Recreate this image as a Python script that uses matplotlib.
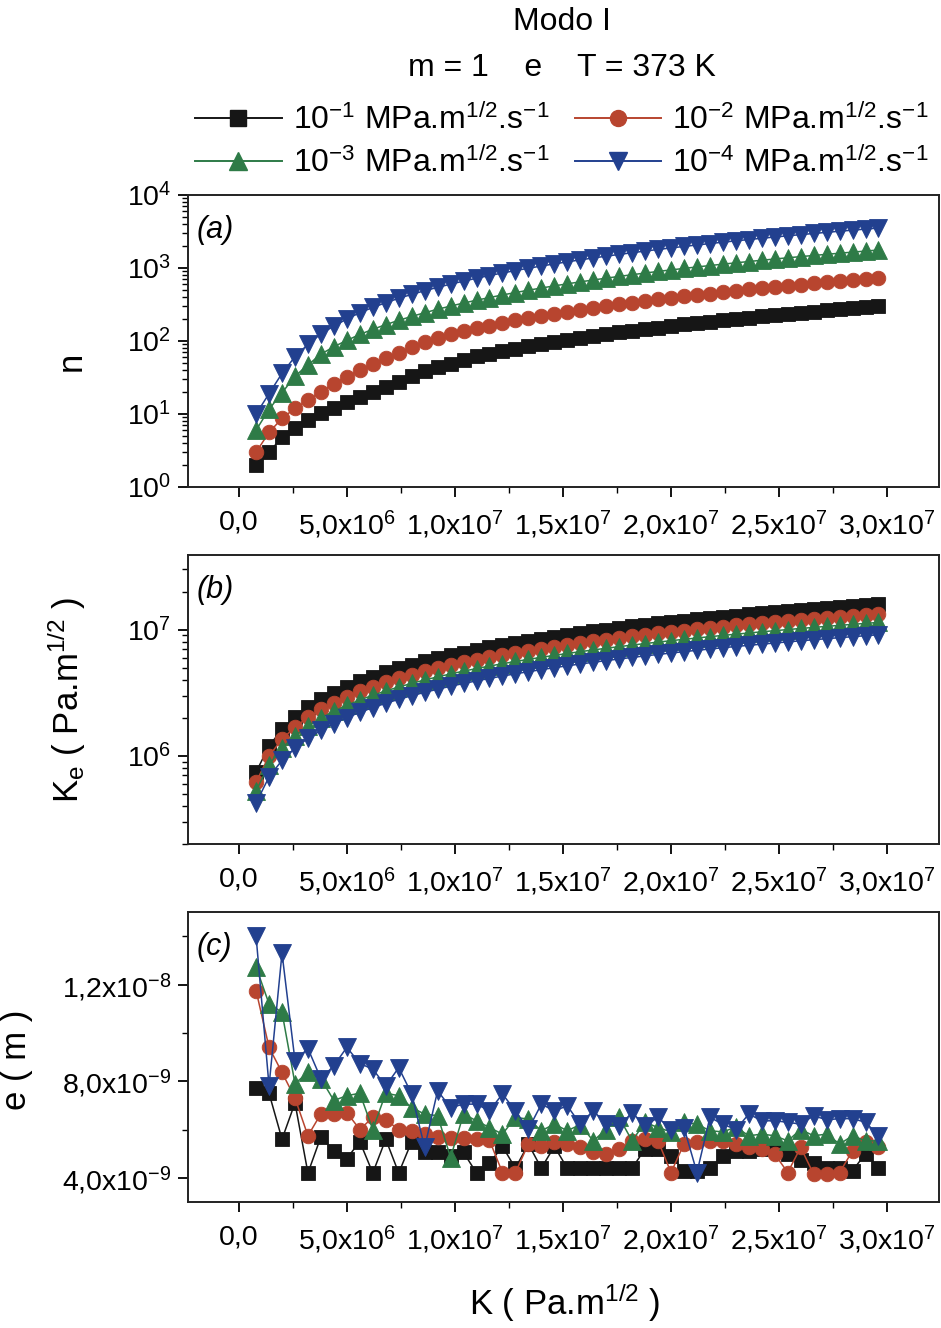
import matplotlib
matplotlib.use("Agg")
import matplotlib.pyplot as plt
from matplotlib.lines import Line2D
from matplotlib.ticker import FixedLocator, FixedFormatter, MultipleLocator, LogLocator, NullFormatter

plt.rcParams['font.family'] = ['Liberation Sans', 'DejaVu Sans']
plt.rcParams['mathtext.fontset'] = 'custom'
plt.rcParams['mathtext.rm'] = 'Liberation Sans'
plt.rcParams['mathtext.it'] = 'Liberation Sans:italic'
plt.rcParams['mathtext.bf'] = 'Liberation Sans:bold'

# Applied stress intensity K (MPa.m^1/2)
K_MPa = [0.8, 1.4, 2.0, 2.6, 3.2, 3.8, 4.4, 5.0, 5.6, 6.2, 6.8, 7.4, 8.0, 8.6, 9.2, 9.8,
         10.4, 11.0, 11.6, 12.2, 12.8, 13.4, 14.0, 14.6, 15.2, 15.8, 16.4, 17.0, 17.6,
         18.2, 18.8, 19.4, 20.0, 20.6, 21.2, 21.8, 22.4, 23.0, 23.6, 24.2, 24.8, 25.4,
         26.0, 26.6, 27.2, 27.8, 28.4, 29.0, 29.6]

rate_labels = [r'10$^{-1}$ MPa.m$^{1/2}$.s$^{-1}$', r'10$^{-2}$ MPa.m$^{1/2}$.s$^{-1}$',
               r'10$^{-3}$ MPa.m$^{1/2}$.s$^{-1}$', r'10$^{-4}$ MPa.m$^{1/2}$.s$^{-1}$']

# (a) n
n_r1 = [2, 3, 4.8, 6.4, 8.3, 10.3, 12, 14.6, 17, 20, 23.4, 27.5, 33, 38.5, 43.5, 49, 55, 61.7,
        67.2, 72.8, 78.6, 84.6, 90.7, 97, 103.5, 110.1, 116.9, 123.8, 130.8, 138, 145.4, 152.9,
        160.5, 168.3, 176.2, 184.2, 192.5, 200.7, 209.2, 217.7, 226.4, 235.3, 244.2, 253.2,
        262.5, 271.9, 281.3, 290.9, 300.6]
n_r2 = [3.0, 5.6, 8.7, 12, 15.5, 20, 26, 32.5, 40, 49, 58, 68, 82, 96, 110, 124.5, 137, 150,
        163, 177, 191, 205, 220, 236, 251, 267, 284, 301, 318, 335, 353, 371, 390, 409, 428,
        447, 467, 487, 508, 529, 550, 571, 593, 615, 638, 660, 683, 706, 730]
n_r3 = [6.0, 11.6, 19.5, 33, 47, 66, 83.5, 102, 123, 144.5, 167.5, 192, 217, 244, 272, 301,
        331, 362, 394, 427, 461, 496, 532, 569, 607, 646, 685, 726, 767, 809, 853, 897, 941,
        987, 1034, 1080, 1129, 1177, 1227, 1277, 1328, 1380, 1432, 1485, 1540, 1594, 1650,
        1706, 1763]
n_r4 = [10, 19, 36, 61, 90, 125, 160, 200, 244, 288, 335, 384, 435, 488, 543, 601, 661, 724,
        788, 854, 922, 992, 1064, 1138, 1214, 1292, 1371, 1452, 1534, 1619, 1705, 1793, 1883,
        1974, 2067, 2161, 2257, 2354, 2454, 2554, 2655, 2760, 2864, 2970, 3079, 3189, 3299,
        3412, 3526]

# (b) Ke (MPa.m^1/2)
ke_r1 = [0.743, 1.197, 1.620, 2.025, 2.417, 2.796, 3.167, 3.530, 3.888, 4.239, 4.586, 4.927,
         5.265, 5.599, 5.929, 6.256, 6.581, 6.902, 7.221, 7.536, 7.850, 8.162, 8.471, 8.779,
         9.085, 9.389, 9.692, 9.992, 10.292, 10.589, 10.885, 11.179, 11.472, 11.765, 12.056,
         12.344, 12.633, 12.920, 13.205, 13.490, 13.774, 14.056, 14.339, 14.620, 14.899,
         15.179, 15.456, 15.733, 16.009]
ke_r2 = [0.620, 0.998, 1.352, 1.690, 2.016, 2.333, 2.642, 2.945, 3.244, 3.536, 3.826, 4.111,
         4.392, 4.671, 4.946, 5.219, 5.490, 5.758, 6.024, 6.287, 6.549, 6.809, 7.067, 7.324,
         7.580, 7.833, 8.086, 8.336, 8.586, 8.834, 9.081, 9.326, 9.571, 9.815, 10.058, 10.298,
         10.539, 10.778, 11.016, 11.255, 11.491, 11.726, 11.963, 12.197, 12.430, 12.663,
         12.894, 13.126, 13.356]
ke_r3 = [0.529, 0.852, 1.153, 1.442, 1.720, 1.990, 2.255, 2.513, 2.768, 3.018, 3.265, 3.508,
         3.748, 3.986, 4.221, 4.454, 4.685, 4.913, 5.140, 5.365, 5.588, 5.811, 6.031, 6.250,
         6.468, 6.684, 6.900, 7.114, 7.327, 7.539, 7.749, 7.958, 8.167, 8.376, 8.582, 8.788,
         8.993, 9.197, 9.400, 9.604, 9.805, 10.006, 10.208, 10.408, 10.607, 10.806, 11.003,
         11.201, 11.397]
ke_r4 = [0.423, 0.680, 0.921, 1.151, 1.374, 1.589, 1.800, 2.007, 2.210, 2.409, 2.607, 2.801,
         2.992, 3.183, 3.370, 3.556, 3.741, 3.923, 4.104, 4.284, 4.462, 4.639, 4.815, 4.990,
         5.164, 5.337, 5.509, 5.680, 5.850, 6.019, 6.187, 6.354, 6.521, 6.687, 6.853, 7.017,
         7.181, 7.344, 7.506, 7.668, 7.829, 7.989, 8.150, 8.310, 8.469, 8.628, 8.785, 8.943,
         9.100]

# (c) e (nm)
e_r1 = [7.7, 7.5, 5.6, 7.1, 4.2, 5.7, 5.1, 4.8, 5.5, 4.2, 5.6, 4.2, 5.5, 5.05, 5.05, 4.9, 5.05,
        4.2, 4.6, 5.3, 4.4, 5.4, 4.4, 5.3, 4.4, 4.4, 4.4, 4.4, 4.4, 4.4, 5.2, 5.2, 4.9, 4.3,
        4.3, 4.4, 4.9, 5.1, 5.1, 5.2, 5.2, 5.0, 4.75, 4.6, 4.4, 4.4, 4.3, 5.0, 4.4]
e_r2 = [11.75, 9.4, 8.36, 7.3, 5.74, 6.65, 6.65, 6.7, 6.0, 6.5, 6.4, 6.0, 5.95, 5.8, 5.7, 5.65,
        5.65, 5.6, 5.55, 4.22, 4.22, 5.4, 5.33, 5.47, 5.4, 5.26, 5.05, 4.98, 5.19, 5.53, 5.6,
        5.53, 4.22, 5.4, 5.47, 5.53, 5.53, 5.4, 5.26, 5.2, 4.98, 4.22, 5.26, 4.15, 4.15, 4.22,
        5.12, 5.5, 5.26]
e_r3 = [12.72, 11.2, 10.85, 7.9, 8.36, 8.1, 7.2, 7.4, 7.5, 6.0, 7.5, 7.4, 6.9, 6.64, 6.57,
        4.84, 6.64, 6.36, 6.08, 5.81, 6.5, 6.43, 5.95, 6.22, 5.95, 6.2, 5.53, 6.0, 6.5, 5.53,
        6.3, 6.08, 5.9, 6.3, 6.22, 5.95, 5.9, 6.1, 5.74, 5.81, 5.74, 5.53, 6.0, 5.74, 5.81,
        5.4, 5.74, 5.53, 5.53]
e_r4 = [14.0, 7.8, 13.3, 8.85, 9.35, 8.1, 8.64, 9.4, 8.73, 8.5, 7.8, 8.56, 7.47, 5.26, 7.6,
        6.91, 7.05, 7.05, 6.77, 7.47, 6.77, 6.01, 7.05, 6.77, 6.98, 6.22, 6.78, 6.22, 6.15,
        6.7, 6.15, 6.5, 6.0, 6.08, 4.22, 6.5, 6.22, 6.0, 6.64, 6.36, 6.36, 6.3, 6.22, 6.57,
        6.4, 6.45, 6.45, 6.3, 5.74]

colors = ['#161616', '#b8452f', '#2e7b47', '#22408f']
markers = ['s', 'o', '^', 'v']
msizes = [10.5, 10.5, 12.5, 12.5]

K = [k * 1e6 for k in K_MPa]
n_sets = [n_r1, n_r2, n_r3, n_r4]
ke_sets = [[v * 1e6 for v in s] for s in (ke_r1, ke_r2, ke_r3, ke_r4)]
e_sets = [[v * 1e-9 for v in s] for s in (e_r1, e_r2, e_r3, e_r4)]

W_FIG, H_FIG = 941, 1328
fig = plt.figure(figsize=(W_FIG / 100, H_FIG / 100), dpi=100)


def box(x0, y0, x1, y1):
    return [x0 / W_FIG, 1 - y1 / H_FIG, (x1 - x0) / W_FIG, (y1 - y0) / H_FIG]


ax_a = fig.add_axes(box(188, 195, 939, 487))
ax_b = fig.add_axes(box(188, 555, 939, 844))
ax_c = fig.add_axes(box(188, 912, 939, 1202))

xt = [0, 5e6, 1e7, 1.5e7, 2e7, 2.5e7, 3e7]
xtl = ['0,0', r'5,0x10$^{6}$', r'1,0x10$^{7}$', r'1,5x10$^{7}$', r'2,0x10$^{7}$',
       r'2,5x10$^{7}$', r'3,0x10$^{7}$']
TICK_FS = 20.5

for ax, data in ((ax_a, n_sets), (ax_b, ke_sets), (ax_c, e_sets)):
    for ys, c, m, ms in zip(data, colors, markers, msizes):
        ax.plot(K, ys, color=c, marker=m, markersize=ms, markeredgecolor=c,
                markerfacecolor=c, linewidth=1.1, markeredgewidth=0.6)
    ax.set_xlim(-2.35e6, 32.4e6)
    ax.xaxis.set_major_locator(FixedLocator(xt))
    ax.xaxis.set_major_formatter(FixedFormatter(xtl))
    ax.xaxis.set_minor_locator(MultipleLocator(2.5e6))
    ax.tick_params(which='major', direction='out', length=7, width=1.3,
                   labelsize=TICK_FS, pad=5, top=False, right=False)
    ax.tick_params(axis='x', which='major', pad=9)
    ax.tick_params(which='minor', direction='out', length=4, width=1.0,
                   top=False, right=False)
    for sp in ax.spines.values():
        sp.set_linewidth(1.4)
        sp.set_color('#222222')

# (a) log scale n
ax_a.set_yscale('log')
ax_a.set_ylim(1, 1e4)
ax_a.yaxis.set_major_locator(FixedLocator([1, 10, 100, 1000, 10000]))
ax_a.yaxis.set_major_formatter(FixedFormatter([r'10$^{0}$', r'10$^{1}$', r'10$^{2}$',
                                               r'10$^{3}$', r'10$^{4}$']))
ax_a.yaxis.set_minor_locator(LogLocator(base=10, subs=range(2, 10)))
ax_a.yaxis.set_minor_formatter(NullFormatter())

# (b) log scale Ke
ax_b.set_yscale('log')
ax_b.set_ylim(2e5, 3.9e7)
ax_b.yaxis.set_major_locator(FixedLocator([1e6, 1e7]))
ax_b.yaxis.set_major_formatter(FixedFormatter([r'10$^{6}$', r'10$^{7}$']))
ax_b.yaxis.set_minor_locator(LogLocator(base=10, subs=range(2, 10)))
ax_b.yaxis.set_minor_formatter(NullFormatter())

# (c) linear e
ax_c.set_ylim(3e-9, 1.5e-8)
ax_c.yaxis.set_major_locator(FixedLocator([4e-9, 8e-9, 1.2e-8]))
ax_c.yaxis.set_major_formatter(FixedFormatter([r'4,0x10$^{-9}$', r'8,0x10$^{-9}$',
                                               r'1,2x10$^{-8}$']))
ax_c.yaxis.set_minor_locator(MultipleLocator(2e-9))

for ax in (ax_a, ax_b, ax_c):
    ax.tick_params(axis='y', which='both', right=False)

LAB_FS = 25
ax_a.set_ylabel('n', fontsize=LAB_FS)
ax_a.yaxis.set_label_coords(-0.133, 0.43)
ax_b.set_ylabel(r'K$_\mathrm{e}$ ( Pa.m$^{1/2}$ )', fontsize=LAB_FS)
ax_b.yaxis.set_label_coords(-0.133, 0.5)
ax_c.set_ylabel('e ( m )', fontsize=LAB_FS)
ax_c.yaxis.set_label_coords(-0.206, 0.49)
fig.text(565 / W_FIG, 1 - 1303 / H_FIG, r'K ( Pa.m$^{1/2}$ )', fontsize=LAB_FS,
         ha='center', va='center')

for ax, tag in ((ax_a, '(a)'), (ax_b, '(b)'), (ax_c, '(c)')):
    ax.text(0.012, 0.88, tag, transform=ax.transAxes, fontsize=22, style='italic',
            ha='left', va='center')

fig.text(562 / W_FIG, 1 - 22 / H_FIG, 'Modo I', fontsize=23, ha='center', va='center')
fig.text(562 / W_FIG, 1 - 68 / H_FIG, 'm = 1    e    T = 373 K', fontsize=23,
         ha='center', va='center')

handles = [Line2D([], [], color=c, marker=m, markersize=ms + 1, markeredgecolor=c,
                  linewidth=1.4) for c, m, ms in zip(colors, markers, msizes)]
order = [0, 2, 1, 3]
fig.legend([handles[i] for i in order], [rate_labels[i] for i in order],
           loc='upper center', bbox_to_anchor=(562 / W_FIG, 1 - 104 / H_FIG), ncol=2,
           frameon=False, fontsize=23, handlelength=2.7, handletextpad=0.35,
           columnspacing=0.8, labelspacing=0.35, borderaxespad=0, borderpad=0)

fig.savefig('out.png', dpi=100)
